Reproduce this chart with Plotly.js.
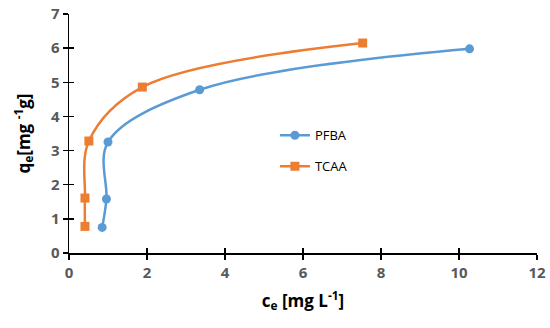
<!DOCTYPE html>
<html><head><meta charset="utf-8">
<script src="https://cdn.plot.ly/plotly-3.0.1.min.js"></script>
<style>html,body{margin:0;padding:0;background:#fff}#c{width:550px;height:328px}</style>
</head><body><div id="c"></div>
<script>
const pfbaX = [0.85, 0.96, 1.0, 3.35, 10.27];
const pfbaY = [0.75, 1.58, 3.25, 4.78, 5.98];
const tcaaX = [0.41, 0.41, 0.51, 1.88, 7.53];
const tcaaY = [0.78, 1.61, 3.28, 4.86, 6.15];
const xTicks = [0, 2, 4, 6, 8, 10, 12];
const yTicks = [0, 1, 2, 3, 4, 5, 6, 7];

const ff = 'Open Sans, Liberation Sans, sans-serif';
const tickFont = {family: ff, size: 15, color: '#595959', weight: 'bold'};
const data = [
  {x: pfbaX, y: pfbaY, name: 'PFBA', legendgroup: 'a', mode: 'lines+markers',
   line: {color: '#5B9BD5', width: 2.5, shape: 'spline', smoothing: 1},
   marker: {symbol: 'circle', size: 9, color: '#5B9BD5'}},
  {x: tcaaX, y: tcaaY, name: 'TCAA', legendgroup: 'b', mode: 'lines+markers',
   line: {color: '#ED7D31', width: 2.5, shape: 'spline', smoothing: 1},
   marker: {symbol: 'square', size: 9, color: '#ED7D31'}},
  {x: [0], y: [0], xaxis: 'x2', yaxis: 'y2', showlegend: false, mode: 'markers', marker: {opacity: 0}, hoverinfo: 'skip'}
];
const layout = {
  width: 550, height: 328,
  margin: {l: 69, r: 13, t: 14, b: 75},
  paper_bgcolor: '#fff', plot_bgcolor: '#fff',
  showlegend: true,
  legend: {x: 0.44, y: 0.555, xanchor: 'left', yanchor: 'top', bgcolor: 'rgba(0,0,0,0)',
           font: {family: ff, size: 13, color: '#000'},
           tracegroupgap: 11, itemwidth: 30},
  xaxis: {range: [0, 12], tickvals: xTicks, ticktext: xTicks.map(String), showgrid: false, zeroline: false,
          showline: true, linecolor: '#000', linewidth: 1.5, ticks: 'outside', ticklen: 5, tickcolor: '#000', tickwidth: 1.5,
          tickfont: tickFont, fixedrange: true,
          title: {text: 'c<sub>e</sub> [mg L<sup>-1</sup>]', font: {family: ff, size: 17, color: '#000', weight: 'bold'}, standoff: 14}},
  yaxis: {range: [0, 7], tickvals: yTicks, ticktext: yTicks.map(String), showgrid: false, zeroline: false,
          showline: true, linecolor: '#000', linewidth: 1.5, ticks: 'outside', ticklen: 5, tickcolor: '#000', tickwidth: 1.5,
          tickfont: tickFont, fixedrange: true,
          title: {text: 'q<sub>e</sub>[mg <sup>-1</sup>g]', font: {family: ff, size: 17, color: '#000', weight: 'bold'}, standoff: 16}},
  xaxis2: {overlaying: 'x', range: [0, 12], tickvals: xTicks, showticklabels: false, ticks: 'inside', ticklen: 5, tickcolor: '#000', tickwidth: 1.5,
           showgrid: false, zeroline: false, showline: false, anchor: 'y'},
  yaxis2: {overlaying: 'y', range: [0, 7], tickvals: yTicks, showticklabels: false, ticks: 'inside', ticklen: 5, tickcolor: '#000', tickwidth: 1.5,
           showgrid: false, zeroline: false, showline: false, anchor: 'x'}
};
Plotly.newPlot('c', data, layout, {displayModeBar: false, staticPlot: true});
</script></body></html>
